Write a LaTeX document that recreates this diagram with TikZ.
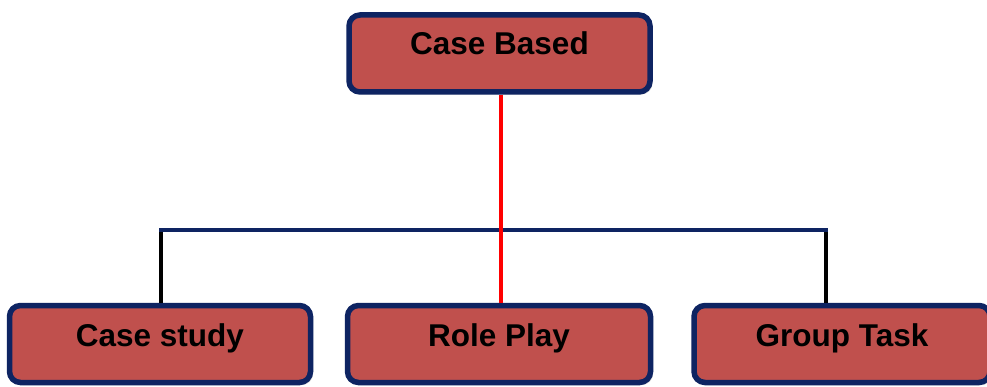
\documentclass[tikz,border=0pt]{standalone}
\usepackage{fontspec}
\setmainfont{Liberation Sans}
\usetikzlibrary{shadows}
\definecolor{boxfill}{RGB}{192,80,77}
\definecolor{boxline}{RGB}{14,36,98}
\begin{document}
\begin{tikzpicture}[x=1pt,y=-1pt,
  box/.style={draw=boxline, line width=5.5pt, fill=boxfill, rounded corners=11pt,
    minimum height=77pt, inner sep=0pt,
    text height=22pt, text depth=18pt,
    font=\fontsize{31.5}{36}\selectfont\bfseries,
    drop shadow={shadow xshift=2.5pt, shadow yshift=-2.5pt, opacity=0.25, fill=black!60}},
  trunk/.style={line width=4.5pt, draw=red},
  branch/.style={line width=4.5pt, draw=boxline},
  leg/.style={line width=4.5pt, draw=black}]
  \useasboundingbox (0,0) rectangle (987,387);
  \fill[white] (0,0) rectangle (987,387);

  % tree: root, bar and leaves
  \node[box, minimum width=301pt, text depth=19pt] (root) at (499.5,53.5) {Case Based};
  \node[box, minimum width=301pt] (cs) at (160,344) {Case study};
  \node[box, minimum width=303pt] (rp) at (499,344) {Role Play};
  \node[box, minimum width=296pt] (gt) at (842,344) {Group Task};

  \coordinate (hl) at (161,230);
  \coordinate (hr) at (826,230);

  \draw[leg] (hl) -- (hl |- cs.north);
  \draw[leg] (hr) -- (hr |- gt.north);
  \draw[branch] ([xshift=-2pt]hl) -- ([xshift=2pt]hr);
  \draw[trunk] (root.south -| 501,0) -- (rp.north -| 501,0);
\end{tikzpicture}
\end{document}
